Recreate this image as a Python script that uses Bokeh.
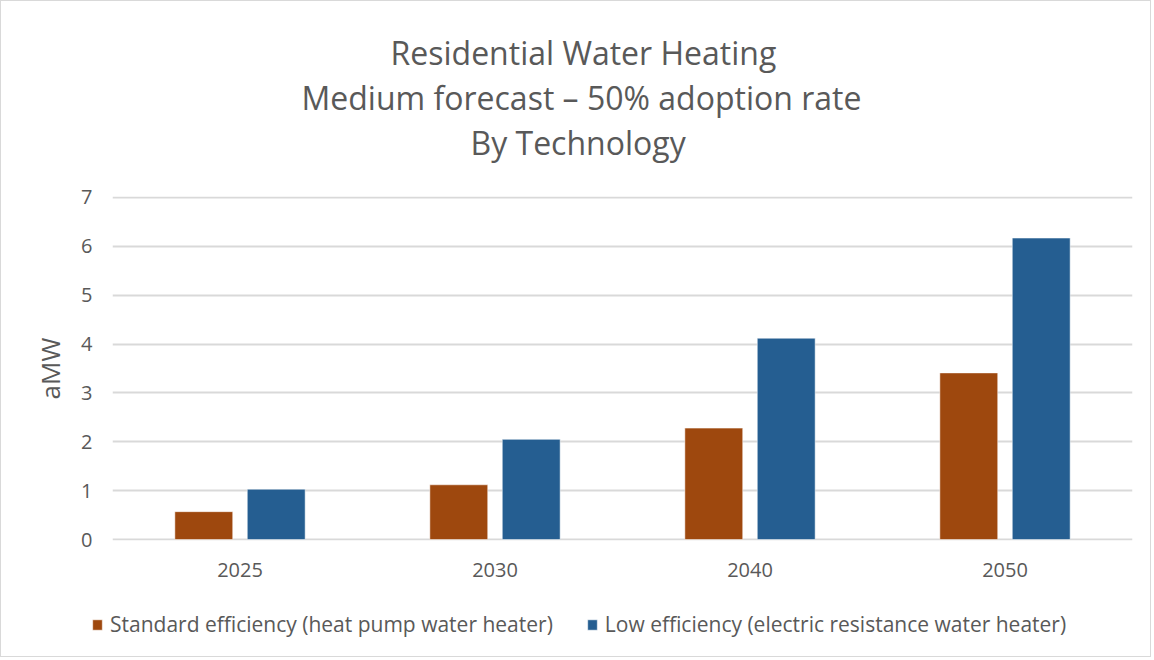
from bokeh.plotting import figure
from bokeh.layouts import column, row
from bokeh.models import FactorRange, Range1d, Title, Legend, LegendItem, ColumnDataSource
from bokeh.transform import dodge
from bokeh.embed import file_html
from bokeh.resources import INLINE

years = ["2025", "2030", "2040", "2050"]
standard_eff = [0.57, 1.12, 2.28, 3.41]
low_eff = [1.03, 2.05, 4.12, 6.17]
series_names = ["Standard efficiency (heat pump water heater)",
                "Low efficiency (electric resistance water heater)"]
colors = ["#9E480E", "#255E91"]
y_ticks = [0, 1, 2, 3, 4, 5, 6, 7]
title_lines = ["Residential Water Heating", "Medium forecast \u2013 50% adoption rate",
               "By Technology"]

FONT = "Open Sans"
TXT = "#595959"

src = ColumnDataSource(dict(year=years, std=standard_eff, low=low_eff))

p = figure(x_range=FactorRange(*years, range_padding=0), y_range=Range1d(-0.02, 7.02),
           frame_width=1020, frame_height=344, output_backend="svg", toolbar_location=None,
           min_border_left=111, min_border_right=18, min_border_top=195, min_border_bottom=60)


def bars(fig, visible=True):
    a = fig.vbar(x=dodge("year", -0.142, range=p.x_range), top="std", bottom=0, width=0.227,
                 source=src, fill_color=colors[0], line_color="white", line_alpha=0.5,
                 line_width=1, visible=visible)
    b = fig.vbar(x=dodge("year", 0.142, range=p.x_range), top="low", bottom=0, width=0.227,
                 source=src, fill_color=colors[1], line_color="white", line_alpha=0.5,
                 line_width=1, visible=visible)
    return a, b


bars(p)

p.outline_line_color = None
p.xgrid.grid_line_color = None
p.ygrid.grid_line_color = "#d9d9d9"
p.ygrid.grid_line_width = 2
p.ygrid.level = "underlay"
p.yaxis.ticker = y_ticks
for ax in (p.xaxis, p.yaxis):
    ax.axis_line_color = None
    ax.major_tick_line_color = None
    ax.minor_tick_line_color = None
    ax.major_label_text_font = FONT
    ax.major_label_text_font_size = "20px"
    ax.major_label_text_color = TXT
p.yaxis.major_label_standoff = 14
p.xaxis.major_label_standoff = 16
p.yaxis.axis_label = "aMW"
p.yaxis.axis_label_text_font = FONT
p.yaxis.axis_label_text_font_size = "26px"
p.yaxis.axis_label_text_font_style = "normal"
p.yaxis.axis_label_text_color = TXT
p.yaxis.axis_label_standoff = 10

# title lines, left-aligned with offsets so they are centred on the whole chart
title_offsets = [278, 189, 358]
spacer = Title(text=" ", text_font_size="1px", standoff=30)
p.add_layout(spacer, "above")
for txt, off in reversed(list(zip(title_lines, title_offsets))):
    t = Title(text=txt, align="left", text_font=FONT, text_font_size="32px",
              text_font_style="normal", text_color=TXT, standoff=0, offset=off)
    p.add_layout(t, "above")

# legend strip below the chart
lp = figure(width=1149, height=56, x_range=p.x_range, y_range=p.y_range,
            output_backend="svg", toolbar_location=None,
            x_axis_location=None, y_axis_location=None, min_border=0)
lp.outline_line_color = None
lp.grid.visible = False
l1, l2 = bars(lp, visible=False)
legend = Legend(items=[LegendItem(label=series_names[0], renderers=[l1]),
                       LegendItem(label=series_names[1], renderers=[l2])],
                orientation="horizontal", location=(90, 18),
                label_text_font=FONT, label_text_font_size="21px", label_text_color=TXT,
                glyph_width=12, glyph_height=13, label_standoff=7, spacing=33,
                border_line_color=None, background_fill_alpha=0, margin=0, padding=0)
lp.add_layout(legend, "center")

layout = column(p, row(lp), spacing=0)
layout.styles = {"border": "1px solid #d9d9d9"}

open("out.html", "w").write(file_html(layout, INLINE))
